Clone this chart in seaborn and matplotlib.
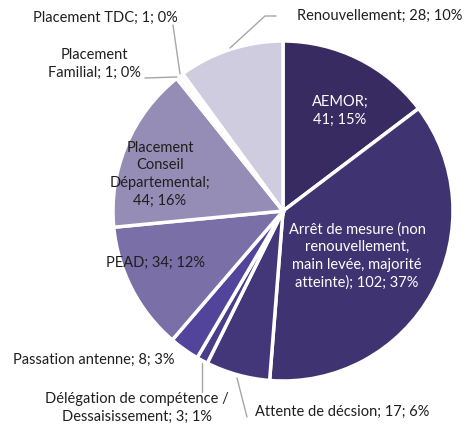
import matplotlib
matplotlib.use('Agg')
import matplotlib.pyplot as plt
import seaborn as sns

# données du graphique
categories = ['AEMOR', 'Arrêt de mesure', 'Attente de décsion', 'Délégation de compétence',
              'Passation antenne', 'PEAD', 'Placement Conseil Départemental',
              'Placement Familial', 'Placement TDC', 'Renouvellement']
values = [41, 102, 17, 3, 8, 34, 44, 1, 1, 28]
labels = ['AEMOR;\n41; 15%',
          'Arrêt de mesure (non\nrenouvellement,\nmain levée, majorité\natteinte); 102; 37%',
          'Attente de décsion; 17; 6%',
          'Délégation de compétence /\nDessaisissement; 3; 1%',
          'Passation antenne; 8; 3%',
          'PEAD; 34; 12%',
          'Placement\nConseil\nDépartemental;\n44; 16%',
          'Placement\nFamilial; 1; 0%',
          'Placement TDC; 1; 0%',
          'Renouvellement; 28; 10%']
colors = ['#372b62', '#3f3471', '#43377a', '#4a3d89', '#52449a',
          '#7a6fa6', '#958db5', '#b0aaca', '#c0bcd5', '#cfcce0']
text_colors = ['white', 'white', '#1f1f1f', '#1f1f1f', '#1f1f1f',
               '#1f1f1f', '#1f1f1f', '#1f1f1f', '#1f1f1f', '#1f1f1f']

sns.set_theme(style='white')
plt.rcParams['font.family'] = ['Lato', 'DejaVu Sans']

W, H = 467, 430
CX, CY, R = 283, 211, 170


def to_data(px, py):
    return (px - CX) / R, (CY - py) / R


fig = plt.figure(figsize=(W / 100, H / 100), dpi=100)
ax = fig.add_axes([(CX - R) / W, (H - CY - R) / H, 2 * R / W, 2 * R / H])
ax.pie(values, colors=colors, startangle=90, counterclock=False, radius=1,
       wedgeprops=dict(edgecolor='white', linewidth=2.5))
ax.set_xlim(-1, 1)
ax.set_ylim(-1, 1)
ax.set_aspect('equal')
ax.axis('off')

# position des étiquettes (pixels de l'image)
label_pos = [(340, 111), (357, 256), (342, 412), (137, 408), (94, 360),
             (156, 263), (160, 174), (94, 64), (105, 18), (380, 16)]
for lab, (px, py), tc in zip(labels, label_pos, text_colors):
    x, y = to_data(px, py)
    ax.text(x, y, lab, ha='center', va='center', fontsize=10.5,
            color=tc, linespacing=1.33, clip_on=False)

# lignes de rappel
leaders = [
    [(230, 48), (265, 16), (276, 16)],
    [(173, 25), (180, 74)],
    [(145, 78), (177, 77)],
    [(202, 363), (202, 392)],
    [(237, 378), (247, 417)],
]
for pts in leaders:
    xs, ys = zip(*[to_data(px, py) for px, py in pts])
    ax.plot(xs, ys, color='#a6a6a6', linewidth=1, clip_on=False)

fig.savefig('out.png', dpi=100, facecolor='white')
